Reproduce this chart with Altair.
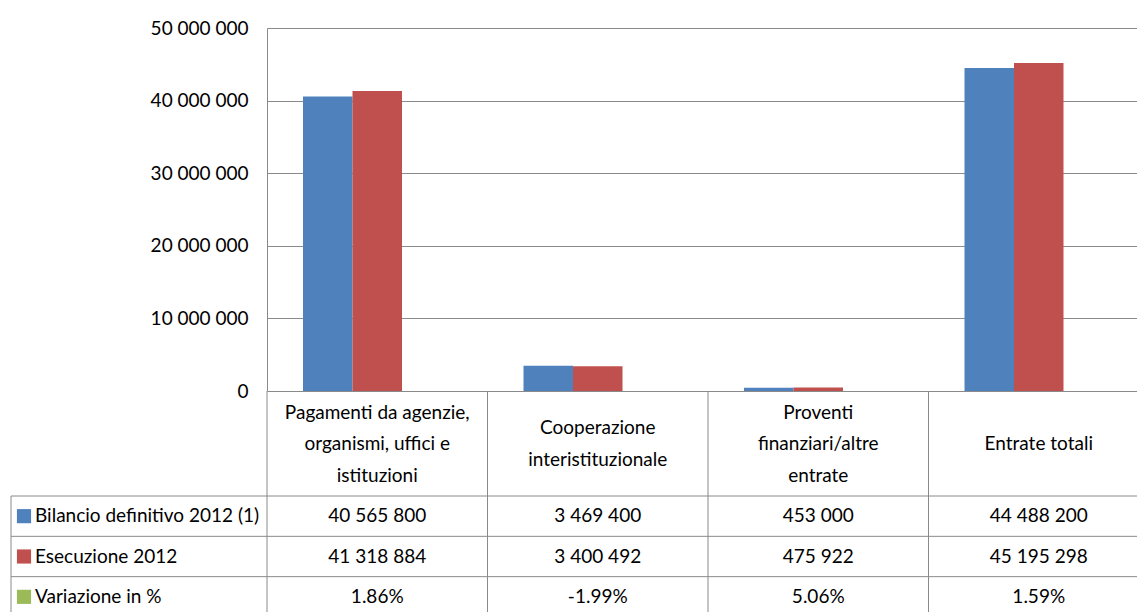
import altair as alt
import pandas as pd

CATEGORIES = [
    "Pagamenti da agenzie,\norganismi, uffici e\nistituzioni",
    "Cooperazione\ninteristituzionale",
    "Proventi\nfinanziari/altre\nentrate",
    "Entrate totali",
]
SERIES = ["Bilancio definitivo 2012 (1)", "Esecuzione 2012", "Variazione in %"]
BILANCIO = [40565800, 3469400, 453000, 44488200]
ESECUZIONE = [41318884, 3400492, 475922, 45195298]
VARIAZIONE = [1.86, -1.99, 5.06, 1.59]
COLORS = ["#4F81BD", "#C0504D", "#9BBB59"]
Y_TICKS = [0, 10000000, 20000000, 30000000, 40000000, 50000000]

FONT = "Lato"
FS = 19
GRAY = "#8a8a8a"


def fmt_int(v):
    return f"{v:,}".replace(",", " ")


bar_rows = []
for c, b, e in zip(CATEGORIES, BILANCIO, ESECUZIONE):
    bar_rows.append({"category": c, "series": SERIES[0], "value": b})
    bar_rows.append({"category": c, "series": SERIES[1], "value": e})
bar_df = pd.DataFrame(bar_rows)

table_rows = []
for c, b, e, p in zip(CATEGORIES, BILANCIO, ESECUZIONE, VARIAZIONE):
    table_rows.append({"category": c, "series": SERIES[0], "label": fmt_int(b)})
    table_rows.append({"category": c, "series": SERIES[1], "label": fmt_int(e)})
    table_rows.append({"category": c, "series": SERIES[2], "label": f"{p:.2f}%"})
table_df = pd.DataFrame(table_rows)

header_rows = []
for c in CATEGORIES:
    lines = c.split("\n")
    n = len(lines)
    for i, ln in enumerate(lines):
        header_rows.append({"category": c, "line": ln, "pos": i - (n - 1) / 2})
header_df = pd.DataFrame(header_rows)

legend_df = pd.DataFrame({"series": SERIES})
cat_df = pd.DataFrame({"category": CATEGORIES})

W, H = 870, 363
x_scale = alt.Scale(domain=CATEGORIES, range=[0, 882], paddingInner=0, paddingOuter=0)
color_scale = alt.Scale(domain=SERIES, range=COLORS)
row_scale = alt.Scale(domain=SERIES, range=[468, 589], paddingInner=0, paddingOuter=0)
line_scale = alt.Scale(domain=[-1, 1], range=[416 - 31.5, 416 + 31.5], nice=False, zero=False)

text_style = dict(font=FONT, fontSize=FS, color="black")

bars = alt.Chart(bar_df).mark_bar().encode(
    x=alt.X(
        "category:N",
        scale=x_scale,
        sort=CATEGORIES,
        title=None,
        axis=alt.Axis(
            labels=False,
            ticks=False,
            tickSize=0,
            domainColor=GRAY,
        ),
    ),
    xOffset=alt.XOffset(
        "series:N",
        scale=alt.Scale(domain=SERIES[:2], range=[36, 135], paddingInner=0, paddingOuter=0),
    ),
    y=alt.Y(
        "value:Q",
        scale=alt.Scale(domain=[0, 50000000], nice=False),
        title=None,
        axis=alt.Axis(
            values=Y_TICKS,
            labelExpr="replace(replace(format(datum.value, ',d'), ',', ' '), ',', ' ')",
            labelFont=FONT,
            labelFontSize=FS,
            labelColor="black",
            labelPadding=19,
            ticks=False,
            tickSize=0,
            grid=True,
            gridColor=GRAY,
            domainColor=GRAY,
        ),
    ),
    color=alt.Color("series:N", scale=color_scale, legend=None),
)

header_text = alt.Chart(header_df).mark_text(baseline="middle", **text_style).encode(
    x=alt.X("category:N", scale=x_scale, sort=CATEGORIES, axis=None),
    y=alt.Y("pos:Q", scale=line_scale, axis=None),
    text="line:N",
)

table_text = alt.Chart(table_df).mark_text(**text_style).encode(
    x=alt.X("category:N", scale=x_scale, sort=CATEGORIES, axis=None),
    y=alt.Y("series:N", scale=row_scale, axis=None),
    text="label:N",
)

legend_sq = alt.Chart(legend_df).mark_square(size=200, opacity=1).encode(
    x=alt.value(-243),
    y=alt.Y("series:N", scale=row_scale, axis=None),
    color=alt.Color("series:N", scale=color_scale, legend=None),
)

legend_text = alt.Chart(legend_df).mark_text(align="left", **text_style).encode(
    x=alt.value(-232),
    y=alt.Y("series:N", scale=row_scale, axis=None),
    text="series:N",
)

h_top = alt.Chart(legend_df).mark_rule(color=GRAY).encode(
    x=alt.value(-256),
    x2=alt.value(900),
    y=alt.Y("series:N", scale=row_scale, axis=None, bandPosition=0),
)
h_bottom = alt.Chart(legend_df.tail(1)).mark_rule(color=GRAY).encode(
    x=alt.value(-256),
    x2=alt.value(900),
    y=alt.Y("series:N", scale=row_scale, axis=None, bandPosition=1),
)

v_lines = alt.Chart(cat_df).mark_rule(color=GRAY).encode(
    x=alt.X("category:N", scale=x_scale, sort=CATEGORIES, axis=None, bandPosition=0),
    y=alt.value(H),
    y2=alt.value(589),
)
v_left = alt.Chart(legend_df.head(1)).mark_rule(color=GRAY).encode(
    x=alt.value(-256),
    y=alt.value(468),
    y2=alt.value(589),
)

chart = (
    alt.layer(bars, v_lines, v_left, h_top, h_bottom, header_text, table_text, legend_sq, legend_text)
    .resolve_scale(y="independent")
    .properties(
        width=W,
        height=H,
        autosize=alt.AutoSizeParams(type="none"),
        padding={"left": 267, "top": 28, "right": 0, "bottom": 221},
        background="white",
    )
    .configure_view(stroke=None)
)

chart.save("out.html", embed_options={"renderer": "svg", "actions": False})
